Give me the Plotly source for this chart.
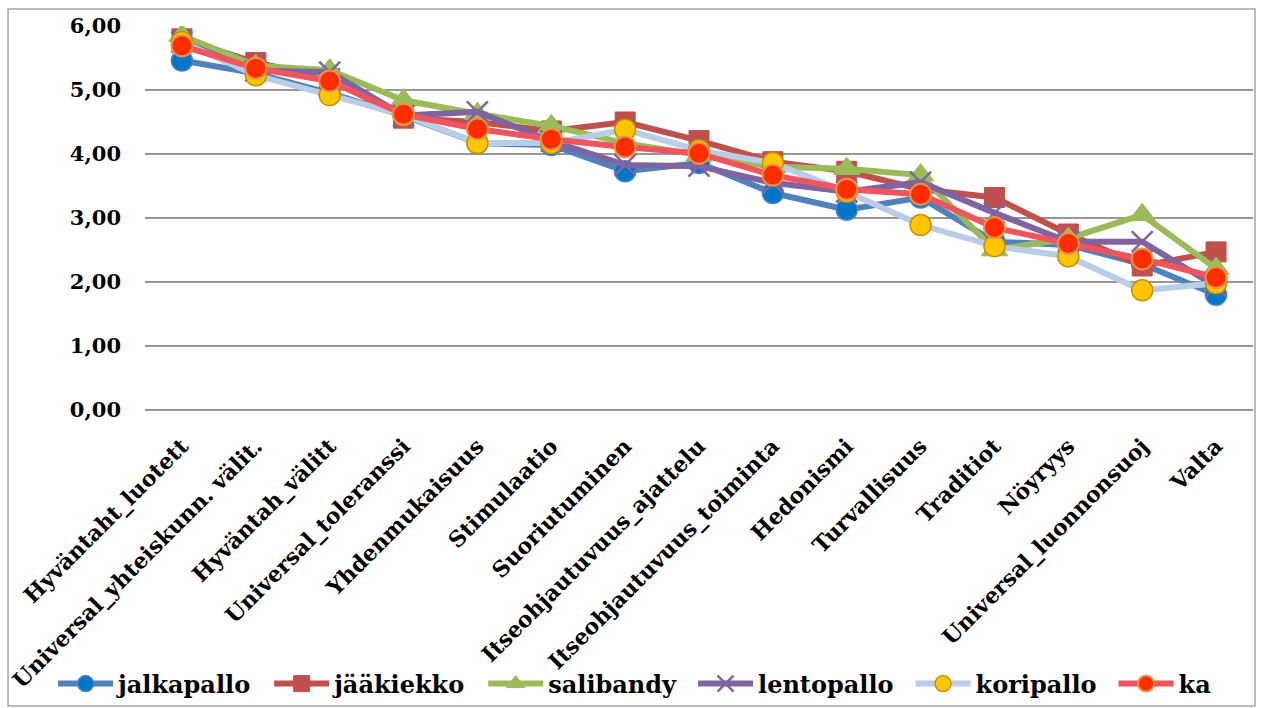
import plotly.graph_objects as go

categories = [
    "Hyväntaht_luotett", "Universal_yhteiskunn. välit.", "Hyväntah_välitt",
    "Universal_toleranssi", "Yhdenmukaisuus", "Stimulaatio", "Suoriutuminen",
    "Itseohjautuvuus_ajattelu", "Itseohjautuvuus_toiminta", "Hedonismi",
    "Turvallisuus", "Traditiot", "Nöyryys", "Universal_luonnonsuoj", "Valta",
]

jalkapallo = [5.46, 5.26, 4.95, 4.60, 4.17, 4.14, 3.73, 3.86, 3.39, 3.13, 3.32, 2.63, 2.58, 2.28, 1.80]
jaakiekko = [5.80, 5.43, 5.18, 4.56, 4.50, 4.36, 4.50, 4.21, 3.88, 3.73, 3.45, 3.32, 2.75, 2.25, 2.47]
salibandy = [5.85, 5.38, 5.31, 4.84, 4.63, 4.44, 4.17, 3.98, 3.80, 3.77, 3.67, 2.50, 2.68, 3.05, 2.21]
lentopallo = [5.75, 5.30, 5.28, 4.60, 4.66, 4.20, 3.83, 3.81, 3.55, 3.41, 3.56, 3.08, 2.63, 2.63, 1.93]
koripallo = [5.75, 5.23, 4.92, 4.61, 4.17, 4.17, 4.38, 4.06, 3.86, 3.41, 2.89, 2.56, 2.40, 1.87, 1.98]
ka = [5.69, 5.34, 5.14, 4.62, 4.39, 4.23, 4.11, 4.01, 3.67, 3.45, 3.37, 2.85, 2.60, 2.36, 2.07]

FONT = "DejaVu Serif"
GAP = "\u2002"  # en space: extra room between legend entries

series = [
    ("jalkapallo", jalkapallo, dict(color="rgb(79,129,189)", width=6),
     dict(symbol="circle", size=21, color="rgb(0,118,200)",
          line=dict(color="rgb(79,129,189)", width=1.5))),
    ("jääkiekko", jaakiekko, dict(color="rgb(192,80,77)", width=6),
     dict(symbol="square", size=20, color="rgb(192,80,77)",
          line=dict(color="rgb(192,80,77)", width=1))),
    ("salibandy", salibandy, dict(color="rgb(155,187,89)", width=6),
     dict(symbol="triangle-up", size=23, color="rgb(155,187,89)",
          line=dict(color="rgb(155,187,89)", width=1))),
    ("lentopallo", lentopallo, dict(color="rgb(128,100,162)", width=6),
     dict(symbol="x-thin", size=21, color="rgb(128,100,162)",
          line=dict(color="rgb(128,100,162)", width=2.5))),
    ("koripallo", koripallo, dict(color="rgb(185,205,230)", width=6),
     dict(symbol="circle", size=21, color="rgb(255,198,0)",
          line=dict(color="rgb(196,146,0)", width=1.5))),
    ("ka", ka, dict(color="rgb(240,85,95)", width=6),
     dict(symbol="circle", size=21, color="rgb(255,45,0)",
          line=dict(color="rgb(232,150,70)", width=2))),
]

fig = go.Figure()
for i, (name, values, line, marker) in enumerate(series):
    label = name if i == len(series) - 1 else name + GAP
    fig.add_trace(go.Scatter(
        x=categories, y=values, name=label, mode="lines+markers",
        line=line, marker=marker,
    ))

# outer chart frame
fig.add_shape(type="rect", xref="paper", yref="paper",
              x0=-0.1236, x1=1.0018, y0=-0.771, y1=1.0443,
              line=dict(color="rgb(166,166,166)", width=1.5), layer="below")

fig.update_layout(
    width=1261, height=708,
    margin=dict(l=145, r=8, t=26, b=298, autoexpand=False),
    paper_bgcolor="white", plot_bgcolor="white",
    separators=", ",
    font=dict(family=FONT, size=20, color="black", weight="bold"),
    showlegend=True,
    legend=dict(
        orientation="h", xref="paper", yref="paper",
        x=-0.083, xanchor="left", y=-0.7135, yanchor="middle",
        font=dict(family=FONT, size=24, color="black", weight="bold"),
        itemwidth=55, bgcolor="rgba(0,0,0,0)",
    ),
    xaxis=dict(
        type="category", range=[-0.5, 14.5], tickangle=-45,
        showgrid=False, showline=False, zeroline=False,
        ticklabelstandoff=18,
        tickfont=dict(family=FONT, size=22, weight="bold"),
    ),
    yaxis=dict(
        range=[0, 6], dtick=1, tickformat=".2f",
        showgrid=True, gridcolor="rgb(151,151,151)", gridwidth=1.5,
        zeroline=True, zerolinecolor="rgb(151,151,151)", zerolinewidth=1.5,
        showline=False, ticklabelstandoff=23,
        tickfont=dict(family=FONT, size=21, weight="bold"),
    ),
)

fig.write_html("out.html")
